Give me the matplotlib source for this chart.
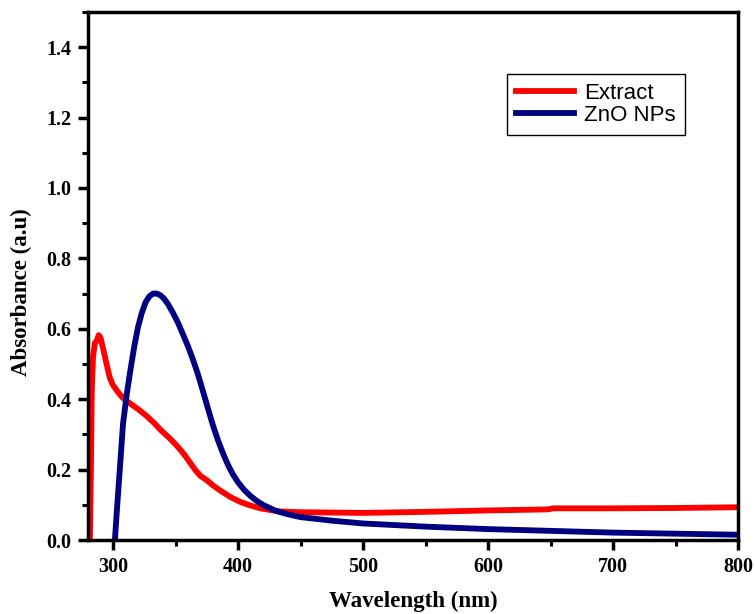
import matplotlib.pyplot as plt
from matplotlib.ticker import MultipleLocator

# Extract (red) spectrum
extract_wl = [281.5, 282.3, 283, 284, 285.5, 287, 288.5, 290, 292, 294.5, 297.5, 300, 304, 308,
              314, 320, 327, 333, 338, 345, 350, 354, 358, 362, 366, 370, 375, 380, 386,
              394, 402, 410, 418, 426, 434, 450, 500, 550, 600, 648, 652, 700, 750, 800]
extract_abs = [0.0, 0.2, 0.42, 0.52, 0.56, 0.565, 0.582, 0.575, 0.545, 0.505, 0.46, 0.44, 0.42, 0.403,
               0.387, 0.372, 0.352, 0.332, 0.313, 0.29, 0.272, 0.256, 0.238, 0.218, 0.198, 0.182, 0.17, 0.155, 0.14,
               0.122, 0.108, 0.098, 0.09, 0.085, 0.081, 0.079, 0.077, 0.08, 0.084, 0.087, 0.09, 0.09, 0.091, 0.093]

# ZnO NPs (navy) spectrum
zno_wl = [301.5, 303, 305, 308, 311, 314, 317, 320, 323, 326, 329, 332, 335, 338, 341, 344,
          348, 352, 356, 360, 364, 368, 372, 376, 380, 384, 388, 392, 396, 400, 405, 410,
          415, 420, 430, 440, 450, 475, 500, 550, 600, 650, 700, 750, 800]
zno_abs = [0.0, 0.08, 0.18, 0.33, 0.415, 0.485, 0.55, 0.605, 0.645, 0.675, 0.692, 0.70, 0.70, 0.695, 0.685, 0.67,
           0.645, 0.617, 0.584, 0.55, 0.512, 0.47, 0.422, 0.373, 0.325, 0.283, 0.246, 0.213, 0.186, 0.164, 0.142, 0.125,
           0.111, 0.1, 0.083, 0.073, 0.065, 0.055, 0.047, 0.038, 0.031, 0.026, 0.021, 0.018, 0.015]

serif = ['Liberation Serif', 'DejaVu Serif']

fig = plt.figure(figsize=(7.55, 6.14), dpi=100)
ax = fig.add_axes([0.1166, 0.1205, 0.8609, 0.86])

ax.plot(extract_wl, extract_abs, color='#ff0000', linewidth=4.2, label='Extract')
ax.plot(zno_wl, zno_abs, color='#000080', linewidth=4.2, label='ZnO NPs')

ax.set_xlim(280, 800)
ax.set_ylim(0, 1.5)
ax.xaxis.set_major_locator(MultipleLocator(100))
ax.xaxis.set_minor_locator(MultipleLocator(50))
ax.yaxis.set_major_locator(MultipleLocator(0.2))
ax.yaxis.set_minor_locator(MultipleLocator(0.1))
ax.yaxis.set_major_formatter(plt.FuncFormatter(lambda v, p: f'{v:.1f}' if v < 1.45 else ''))

for s in ax.spines.values():
    s.set_linewidth(2.5)
ax.tick_params(which='major', direction='out', length=7, width=2.5, top=False, right=False, pad=5)
ax.tick_params(which='minor', direction='out', length=4, width=2.2, top=False, right=False)

for lab in ax.get_xticklabels() + ax.get_yticklabels():
    lab.set_fontfamily(serif)
    lab.set_fontweight('bold')
    lab.set_fontsize(14.5)

ax.set_xlabel('Wavelength (nm)', fontfamily=serif, fontweight='bold', fontsize=16.5)
ax.set_ylabel('Absorbance (a.u)', fontfamily=serif, fontweight='bold', fontsize=16.5)
ax.xaxis.set_label_coords(0.5, -0.097)
ax.yaxis.set_label_coords(-0.103, 0.47)
ax.yaxis.label.set_va('center')

leg = ax.legend(loc='upper right', bbox_to_anchor=(0.918, 0.883), borderaxespad=0,
                prop={'family': ['Liberation Sans', 'DejaVu Sans'], 'size': 16},
                handlelength=2.6, fancybox=False, framealpha=1, edgecolor='black',
                borderpad=0.42, labelspacing=0.02, handletextpad=0.45)
leg.get_frame().set_linewidth(1.0)

fig.savefig('out.png', dpi=100)
